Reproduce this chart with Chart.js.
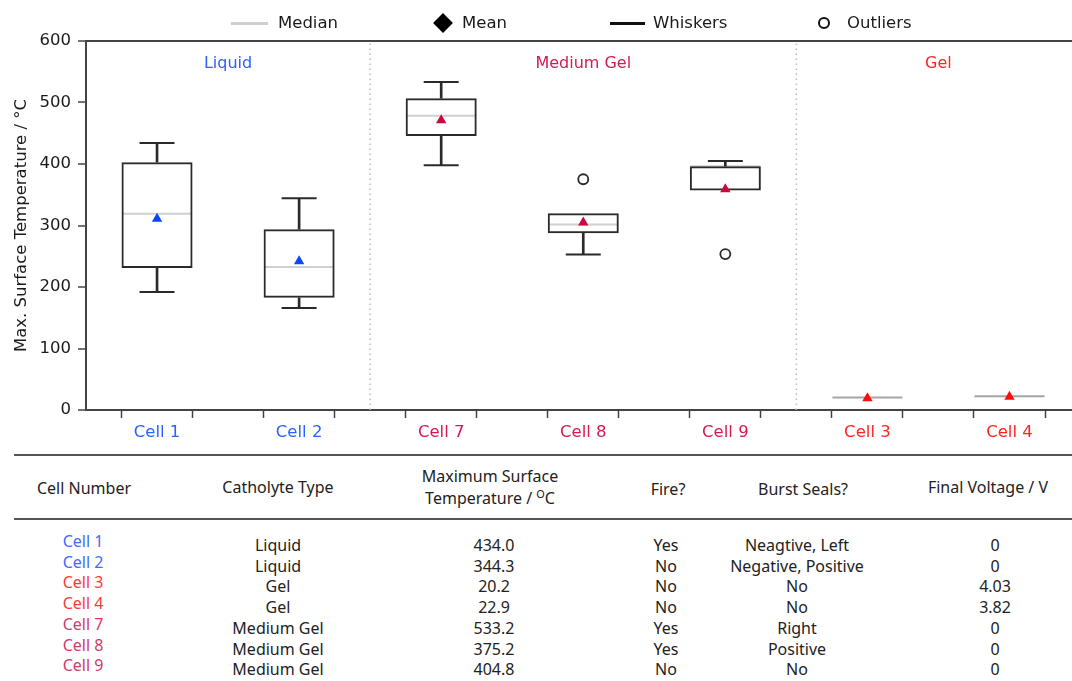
<!DOCTYPE html>
<html>
<head>
<meta charset="utf-8">
<title>Max. Surface Temperature</title>
<script src="https://cdn.jsdelivr.net/npm/chart.js@4.4.1/dist/chart.umd.min.js"></script>
<style>
html,body{margin:0;padding:0;background:#fff;}
#page{position:relative;width:1072px;height:681px;overflow:hidden;background:#fff;}
#chart{position:absolute;left:0;top:0;}
.lg{position:absolute;font-family:"DejaVu Sans",sans-serif;font-size:16.5px;line-height:20px;color:#1a1a1a;top:13px;white-space:nowrap;}
.sym{position:absolute;}
.rule{position:absolute;left:14px;width:1058px;height:0;border-top:2.5px solid #555;}
.tc{position:absolute;font-family:"Noto Sans",sans-serif;font-size:16px;line-height:20px;color:#222;transform:translate(-50%,-50%);white-space:nowrap;text-align:center;}
.tc sup{font-size:0.68em;line-height:0;vertical-align:0.55em;}
</style>
</head>
<body>
<div id="page">
<canvas id="chart" width="1072" height="450"></canvas>
<div id="legend"></div>
<div id="table"></div>
</div>
<script>
// ---------------- chart data ----------------
const categories = ['Cell 1', 'Cell 2', 'Cell 7', 'Cell 8', 'Cell 9', 'Cell 3', 'Cell 4'];
const groups = ['Liquid', 'Liquid', 'Medium Gel', 'Medium Gel', 'Medium Gel', 'Gel', 'Gel'];
const groupNames = ['Liquid', 'Medium Gel', 'Gel'];
const whiskerLow = [192, 166, 398, 253, null, null, null];
const q1 = [231, 182.5, 445.5, 287.5, 357, 20.0, 21.8];
const median = [319, 232.5, 478.5, 301.5, 396.5, 20.2, 22.4];
const q3 = [403, 294, 507, 320, 396.5, 20.4, 22.9];
const whiskerHigh = [434.0, 344.3, 533.2, null, 404.8, null, null];
const means = [311, 242, 471, 305, 359, 19, 21.5];
const outlierCell = [3, 4];
const outlierValue = [375.2, 253.5];
const yTicks = [0, 100, 200, 300, 400, 500, 600];

// ---------------- table data ----------------
const tableCells = ['Cell 1', 'Cell 2', 'Cell 3', 'Cell 4', 'Cell 7', 'Cell 8', 'Cell 9'];
const tableType = ['Liquid', 'Liquid', 'Gel', 'Gel', 'Medium Gel', 'Medium Gel', 'Medium Gel'];
const tableMaxTemp = ['434.0', '344.3', '20.2', '22.9', '533.2', '375.2', '404.8'];
const tableFire = ['Yes', 'No', 'No', 'No', 'Yes', 'Yes', 'No'];
const tableBurst = ['Neagtive, Left', 'Negative, Positive', 'No', 'No', 'Right', 'Positive', 'No'];
const tableVoltage = ['0', '0', '4.03', '3.82', '0', '0', '0'];

// ---------------- styles ----------------
const groupColors = {'Liquid': '#2962ff', 'Medium Gel': '#d41a52', 'Gel': '#ff2424'};
const meanColors = {'Liquid': '#0a46ff', 'Medium Gel': '#c8093f', 'Gel': '#ff0d0d'};
const tableColors = {'Liquid': '#3f6dff', 'Medium Gel': '#d43a6a', 'Gel': '#ff3838'};
const ink = '#2a2a2a';
const spine = '#444';
const fontFam = '"DejaVu Sans", sans-serif';

// ---------------- derived datasets ----------------
const idx = categories.map((_, i) => i);
const boxData = idx.map(i => ({x: i, y: [q1[i], q3[i]]}));
const upperStem = idx.filter(i => whiskerHigh[i] != null).map(i => ({x: i, y: [q3[i], whiskerHigh[i]]}));
const lowerStem = idx.filter(i => whiskerLow[i] != null).map(i => ({x: i, y: [whiskerLow[i], q1[i]]}));
const capPts = idx.filter(i => whiskerHigh[i] != null).map(i => ({x: i, y: whiskerHigh[i]}))
  .concat(idx.filter(i => whiskerLow[i] != null).map(i => ({x: i, y: whiskerLow[i]})));
const medianPts = idx.map(i => ({x: i, y: median[i]}));
const meanPts = idx.map(i => ({x: i, y: means[i]}));
const outlierPts = outlierCell.map((c, k) => ({x: c, y: outlierValue[k]}));
const sepPts = [];
idx.slice(0, -1).forEach(i => {
  if (groups[i] !== groups[i + 1]) {
    sepPts.push({x: i + 0.5, y: yTicks[0]}, {x: i + 0.5, y: yTicks[yTicks.length - 1]}, {x: i + 0.5, y: null});
  }
});
// tick marks at both box edges (category ± 1/4), label at category centre
const xTickVals = [];
idx.forEach(i => { xTickVals.push(i - 0.25, i, i + 0.25); });
const isCenter = v => Number.isInteger(v);

const groupLabelValue = 563;
const groupLabelPlugin = {
  id: 'groupLabels',
  afterDatasetsDraw(chart) {
    const {ctx, scales: {x, y}} = chart;
    ctx.save();
    ctx.font = '16px ' + fontFam;
    ctx.textAlign = 'center';
    ctx.textBaseline = 'middle';
    groupNames.forEach(g => {
      const members = idx.filter(i => groups[i] === g);
      const c = (members[0] + members[members.length - 1]) / 2;
      ctx.fillStyle = groupColors[g];
      ctx.fillText(g, x.getPixelForValue(c), y.getPixelForValue(groupLabelValue));
    });
    ctx.restore();
  }
};

new Chart(document.getElementById('chart'), {
  type: 'bar',
  data: {
    datasets: [
      { type: 'line', data: sepPts, borderColor: '#bdbdbd', borderWidth: 1.5, borderDash: [1.5, 3.5],
        pointRadius: 0, spanGaps: false, order: 10 },
      { type: 'line', data: medianPts, showLine: false, pointStyle: 'line', pointRadius: 35,
        pointBorderColor: idx.map(i => groups[i] === 'Gel' ? '#a8a8a8' : '#d0d0d0'), pointBorderWidth: 2, order: 9 },
      // box width = 2 x tick spacing (ticks every 1/4 category) = half a category
      { type: 'bar', data: boxData, backgroundColor: 'rgba(255,255,255,0)',
        borderColor: idx.map(i => groups[i] === 'Gel' ? 'rgba(120,120,120,0.5)' : ink),
        borderWidth: 2, borderSkipped: false, grouped: false,
        categoryPercentage: 1.0, barPercentage: 2.0, order: 8 },
      { type: 'bar', data: upperStem, backgroundColor: ink, borderWidth: 0, grouped: false, barThickness: 2, order: 7 },
      { type: 'bar', data: lowerStem, backgroundColor: ink, borderWidth: 0, grouped: false, barThickness: 2, order: 7 },
      { type: 'line', data: capPts, showLine: false, pointStyle: 'line', pointRadius: 17.5,
        pointBorderColor: ink, pointBorderWidth: 2, order: 6 },
      { type: 'line', data: meanPts, showLine: false, pointStyle: 'triangle', pointRadius: 6,
        pointBackgroundColor: idx.map(i => meanColors[groups[i]]), pointBorderWidth: 0, order: 2 },
      { type: 'line', data: outlierPts, showLine: false, pointStyle: 'circle', pointRadius: 5,
        pointBackgroundColor: '#ffffff', pointBorderColor: ink, pointBorderWidth: 1.8, order: 1 }
    ]
  },
  options: {
    responsive: false,
    devicePixelRatio: 1,
    animation: false,
    events: [],
    layout: { autoPadding: false, padding: { top: 41, right: 0, bottom: 0, left: 0 } },
    plugins: { legend: { display: false }, tooltip: { enabled: false } },
    scales: {
      x: {
        type: 'linear', min: -0.5, max: 6.44, offset: false,
        afterBuildTicks: s => { s.ticks = xTickVals.map(v => ({value: v})); },
        afterFit: s => { s.height = 40; s.paddingLeft = 0; s.paddingRight = 0; },
        grid: { display: true, drawOnChartArea: false, offset: false, tickLength: 8, tickWidth: 1.5,
          tickColor: c => (c.tick && isCenter(c.tick.value)) ? 'rgba(0,0,0,0)' : spine },
        border: { display: true, color: spine, width: 2 },
        ticks: {
          autoSkip: false, maxRotation: 0, minRotation: 0, padding: 5,
          font: { family: fontFam, size: 16.5 },
          color: c => (c.tick && isCenter(c.tick.value)) ? groupColors[groups[c.tick.value]] : 'rgba(0,0,0,0)',
          callback: v => isCenter(v) ? categories[v] : ''
        }
      },
      y: {
        min: yTicks[0], max: yTicks[yTicks.length - 1],
        afterBuildTicks: s => { s.ticks = yTicks.map(v => ({value: v})); },
        afterFit: s => { s.width = 86; },
        grid: { color: c => (c.tick && c.tick.value === 600) ? spine : 'rgba(0,0,0,0)', lineWidth: 2,
          tickColor: spine, tickLength: 8, tickWidth: 1.5 },
        border: { display: true, color: spine, width: 2 },
        ticks: { padding: 7, color: '#1a1a1a', font: { family: fontFam, size: 16.5 } },
        title: { display: true, text: 'Max. Surface Temperature / °C', color: '#1a1a1a',
          font: { family: fontFam, size: 16.5 }, padding: { top: 12, bottom: 0 } }
      }
    }
  },
  plugins: [groupLabelPlugin]
});

// ---------------- legend (HTML) ----------------
const legendItems = [
  { text: 'Median', sym: 'median', cx: 249, tx: 278 },
  { text: 'Mean', sym: 'mean', cx: 443, tx: 462 },
  { text: 'Whiskers', sym: 'whisker', cx: 627, tx: 653 },
  { text: 'Outliers', sym: 'outlier', cx: 824, tx: 847 }
];
const legendEl = document.getElementById('legend');
const legendY = 23;
legendItems.forEach(it => {
  const s = document.createElement('div');
  s.className = 'sym';
  if (it.sym === 'median') {
    Object.assign(s.style, {left: (it.cx - 18.5) + 'px', top: (legendY - 1.5) + 'px', width: '37px', height: '3px', background: '#cfcfcf'});
  } else if (it.sym === 'whisker') {
    Object.assign(s.style, {left: (it.cx - 17.5) + 'px', top: (legendY - 1.5) + 'px', width: '35px', height: '3px', background: '#111'});
  } else if (it.sym === 'mean') {
    Object.assign(s.style, {left: (it.cx - 7) + 'px', top: (legendY - 7) + 'px', width: '14px', height: '14px', background: '#000', transform: 'rotate(45deg)'});
  } else {
    Object.assign(s.style, {left: (it.cx - 6) + 'px', top: (legendY - 6) + 'px', width: '8px', height: '8px', border: '2px solid #111', borderRadius: '50%'});
  }
  legendEl.appendChild(s);
  const t = document.createElement('div');
  t.className = 'lg';
  t.style.left = it.tx + 'px';
  t.textContent = it.text;
  legendEl.appendChild(t);
});

// ---------------- table (HTML) ----------------
const tableEl = document.getElementById('table');
function addText(html, x, y, color) {
  const d = document.createElement('div');
  d.className = 'tc';
  d.style.left = x + 'px';
  d.style.top = y + 'px';
  if (color) d.style.color = color;
  d.innerHTML = html;
  tableEl.appendChild(d);
}
function addRule(y) {
  const r = document.createElement('div');
  r.className = 'rule';
  r.style.top = y + 'px';
  tableEl.appendChild(r);
}
addRule(454);
addRule(518);
const headers = [
  ['Cell Number', 84, 488], ['Catholyte Type', 278, 487],
  ['Maximum Surface', 490, 476], ['Temperature / <sup>O</sup>C', 490, 498],
  ['Fire?', 668, 489], ['Burst Seals?', 803, 489], ['Final Voltage / V', 988, 487]
];
headers.forEach(h => addText(h[0], h[1], h[2]));
const rowPitch = 20.7;
tableCells.forEach((c, r) => {
  const y0 = 541 + r * rowPitch;
  const y1 = 545 + r * rowPitch;
  addText(c, 83, y0, tableColors[tableType[r]]);
  addText(tableType[r], 278, y1);
  addText(tableMaxTemp[r], 494, y1);
  addText(tableFire[r], 666, y1);
  addText(tableBurst[r], 797, y1);
  addText(tableVoltage[r], 995, y1);
});
</script>
</body>
</html>
